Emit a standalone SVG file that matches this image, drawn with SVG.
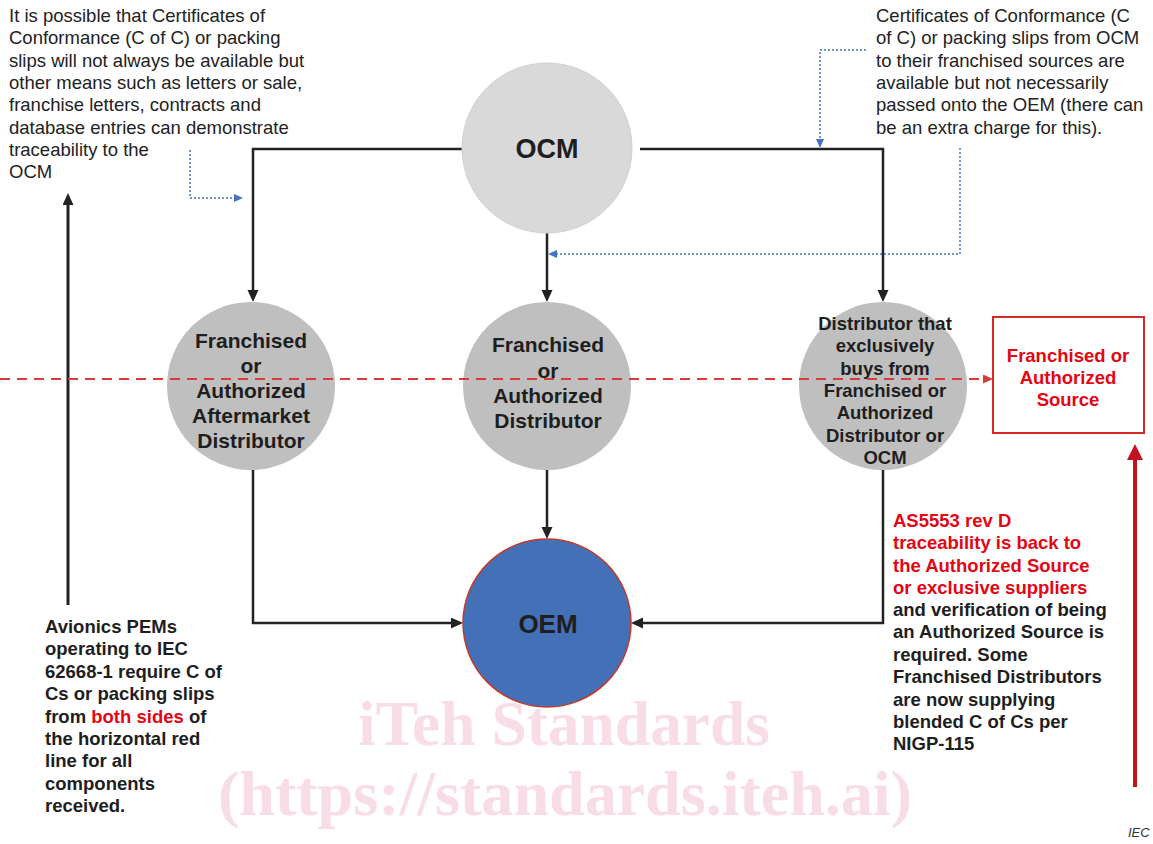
<svg xmlns="http://www.w3.org/2000/svg" width="1153" height="844" viewBox="0 0 1153 844">
<style>
.t{font-family:"Liberation Sans",Arial,sans-serif;font-size:18.5px;fill:#222}
.b{font-family:"Liberation Sans",Arial,sans-serif;font-weight:bold;fill:#1e1e1e}
.n{font-size:21px;text-anchor:middle}
.s{font-size:18.5px}
.c{text-anchor:middle}
.red{fill:#e30613}
.wm{font-family:"Liberation Serif","Times New Roman",serif;font-weight:bold;fill:#f9dde5;font-size:64px}
.blk{fill:none;stroke:#222;stroke-width:2.5}
.blu{fill:none;stroke:#4472c4;stroke-width:1.5;stroke-dasharray:2 2}
</style>
<defs>
<marker id="ab" markerUnits="userSpaceOnUse" markerWidth="12" markerHeight="12" refX="0" refY="5.5" orient="auto"><path d="M0,0 L12,5.5 L0,11 z" fill="#222"/></marker>
<marker id="au" markerUnits="userSpaceOnUse" markerWidth="9" markerHeight="9" refX="0" refY="4" orient="auto"><path d="M0,0 L9,4 L0,8 z" fill="#4472c4"/></marker>
<marker id="ar" markerUnits="userSpaceOnUse" markerWidth="10" markerHeight="10" refX="0" refY="4.5" orient="auto"><path d="M0,0 L10,4.5 L0,9 z" fill="#d93a3a"/></marker>
<marker id="aR" markerUnits="userSpaceOnUse" markerWidth="16" markerHeight="17" refX="0" refY="8" orient="auto"><path d="M0,0 L16,8 L0,16 z" fill="#c1121f"/></marker>
</defs>

<g id="watermark">
<text class="wm" x="358" y="745" textLength="412" lengthAdjust="spacingAndGlyphs">iTeh Standards</text>
<text class="wm" x="218" y="815" textLength="694" lengthAdjust="spacingAndGlyphs">(https://standards.iteh.ai)</text>
</g>

<g id="connectors">
<path class="blk" d="M462,149 H253 V290" marker-end="url(#ab)"/>
<path class="blk" d="M640,149 H883 V290" marker-end="url(#ab)"/>
<path class="blk" d="M547,233 V290" marker-end="url(#ab)"/>
<path class="blk" d="M253,470 V623 H451" marker-end="url(#ab)"/>
<path class="blk" d="M547,470 V527" marker-end="url(#ab)"/>
<path class="blk" d="M883,470 V623 H643" marker-end="url(#ab)"/>
<path fill="none" stroke="#222" stroke-width="3" d="M68,605 V205" marker-end="url(#ab)"/>
<path class="blu" d="M190,150 V198 H234" marker-end="url(#au)"/>
<path class="blu" d="M866,50 H820 V139" marker-end="url(#au)"/>
<path class="blu" d="M960,148 V254 H557" marker-end="url(#au)"/>
<path fill="none" stroke="#c1121f" stroke-width="4" d="M1135,787 V460" marker-end="url(#aR)"/>
</g>

<g id="ocm">
<circle cx="547" cy="148" r="85" fill="#d9d9d9" stroke="#cfcfcf" stroke-width="1"/>
<text class="b c" x="547" y="158" font-size="27">OCM</text>
</g>

<g id="aftermarket">
<circle cx="251" cy="386" r="84" fill="#bfbfbf"/>
<text class="b n"><tspan x="251" y="348">Franchised</tspan><tspan x="251" y="373">or</tspan><tspan x="251" y="398">Authorized</tspan><tspan x="251" y="423">Aftermarket</tspan><tspan x="251" y="448">Distributor</tspan></text>
</g>

<g id="distributor">
<circle cx="547" cy="386" r="84" fill="#bfbfbf"/>
<text class="b n"><tspan x="548" y="352">Franchised</tspan><tspan x="548" y="378">or</tspan><tspan x="548" y="403">Authorized</tspan><tspan x="548" y="428">Distributor</tspan></text>
</g>

<g id="exclusive">
<circle cx="883" cy="386" r="84" fill="#bfbfbf"/>
<text class="b s c"><tspan x="885" y="330">Distributor that</tspan><tspan x="885" y="352">exclusively</tspan><tspan x="885" y="375">buys from</tspan><tspan x="885" y="397">Franchised or</tspan><tspan x="885" y="419">Authorized</tspan><tspan x="885" y="442">Distributor or</tspan><tspan x="885" y="464">OCM</tspan></text>
</g>

<g id="oem">
<circle cx="547" cy="623" r="84" fill="#4470b8" stroke="#c0392b" stroke-width="1.5"/>
<text class="b c" x="548" y="633" font-size="26">OEM</text>
</g>

<g id="redline">
<path fill="none" stroke="#d93a3a" stroke-width="2" stroke-dasharray="10 7" d="M0,379 H983" marker-end="url(#ar)"/>
</g>

<g id="source">
<rect x="993" y="317" width="151" height="116" fill="#fff" stroke="#d42a2a" stroke-width="2"/>
<text class="b s c red"><tspan x="1068" y="362">Franchised or</tspan><tspan x="1068" y="384">Authorized</tspan><tspan x="1068" y="406">Source</tspan></text>
</g>

<g id="note-topleft">
<text class="t"><tspan x="9" y="22">It is possible that Certificates of</tspan><tspan x="9" y="44">Conformance (C of C) or packing</tspan><tspan x="9" y="67">slips will not always be available but</tspan><tspan x="9" y="89">other means such as letters or sale,</tspan><tspan x="9" y="111">franchise letters, contracts and</tspan><tspan x="9" y="134">database entries can demonstrate</tspan><tspan x="9" y="156">traceability to the</tspan><tspan x="9" y="178">OCM</tspan></text>
</g>

<g id="note-topright">
<text class="t"><tspan x="876" y="22">Certificates of Conformance (C</tspan><tspan x="876" y="44">of C) or packing slips from OCM</tspan><tspan x="876" y="67">to their franchised sources are</tspan><tspan x="876" y="89">available but not necessarily</tspan><tspan x="876" y="111">passed onto the OEM (there can</tspan><tspan x="876" y="134">be an extra charge for this).</tspan></text>
</g>

<g id="note-bottomleft">
<text class="b s"><tspan x="45" y="633">Avionics PEMs</tspan><tspan x="45" y="655">operating to IEC</tspan><tspan x="45" y="678">62668-1 require C of</tspan><tspan x="45" y="700">Cs or packing slips</tspan><tspan x="45" y="723">from <tspan class="red">both sides</tspan> of</tspan><tspan x="45" y="745">the horizontal red</tspan><tspan x="45" y="767">line for all</tspan><tspan x="45" y="790">components</tspan><tspan x="45" y="812">received.</tspan></text>
</g>

<g id="note-bottomright">
<text class="b s"><tspan class="red" x="893" y="527">AS5553 rev D</tspan><tspan class="red" x="893" y="549">traceability is back to</tspan><tspan class="red" x="893" y="572">the Authorized Source</tspan><tspan class="red" x="893" y="594">or exclusive suppliers</tspan><tspan x="893" y="616">and verification of being</tspan><tspan x="893" y="638">an Authorized Source is</tspan><tspan x="893" y="661">required. Some</tspan><tspan x="893" y="683">Franchised Distributors</tspan><tspan x="893" y="706">are now supplying</tspan><tspan x="893" y="728">blended C of Cs per</tspan><tspan x="893" y="750">NIGP-115</tspan></text>
</g>

<text x="1128" y="837" font-family="Liberation Sans,Arial,sans-serif" font-style="italic" font-size="13" fill="#333">IEC</text>
</svg>
